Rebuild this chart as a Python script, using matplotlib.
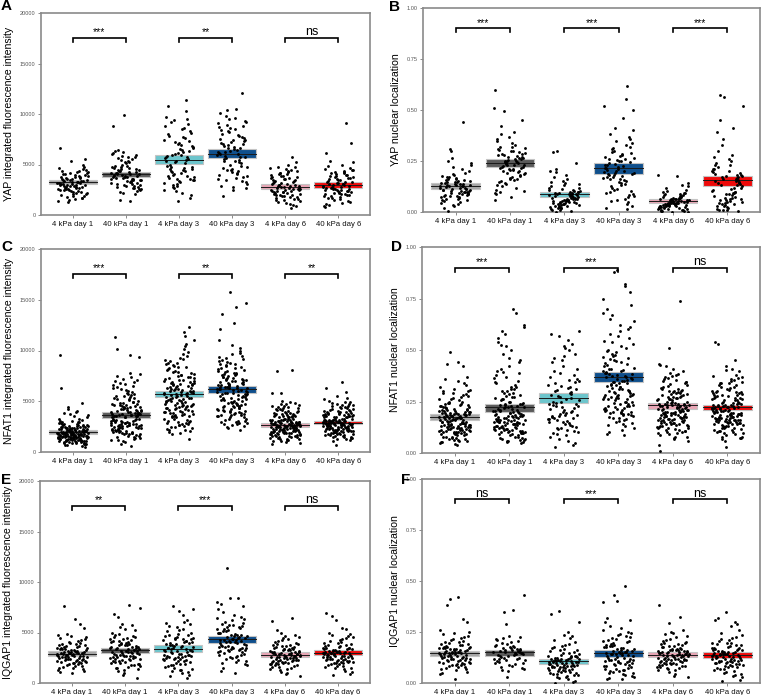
import numpy as np
import matplotlib
matplotlib.use("Agg")
import matplotlib.pyplot as plt
from matplotlib.patches import Rectangle

plt.rcParams['font.family'] = ['Liberation Sans', 'DejaVu Sans']

groups = ["4 kPa day 1", "40 kPa day 1", "4 kPa day 3", "40 kPa day 3", "4 kPa day 6", "40 kPa day 6"]
box_colors = ["#a6a6a6", "#5a5a5a", "#6cc5cc", "#0f4f8c", "#e8a5b5", "#ee0a0a"]

# ---------------- Panel A: YAP intensity (units of 100) ----------------
A1 = [32, 28, 41, 19, 36, 25, 44, 30, 22, 38, 35, 17, 29, 47, 33, 26, 40, 21, 31, 37,
      15, 43, 27, 34, 50, 24, 30, 39, 18, 45, 29, 36, 23, 42, 14, 33, 27, 48, 31, 20,
      38, 26, 35, 16, 41, 28, 53, 32, 24, 37, 30, 19, 44, 34, 25, 39, 22, 29, 46, 33,
      66, 27, 36, 21, 40, 31, 17, 35, 26, 43, 28, 55, 23, 38, 32, 13, 42, 30, 25, 34]
A2 = [40, 35, 52, 28, 46, 38, 61, 31, 44, 26, 49, 37, 57, 22, 42, 33, 64, 39, 29, 47,
      36, 54, 25, 43, 41, 59, 30, 48, 34, 15, 45, 38, 63, 27, 50, 32, 41, 56, 24, 39,
      88, 36, 46, 30, 53, 42, 21, 37, 60, 33, 44, 28, 51, 40, 35, 58, 26, 47, 31, 43,
      99, 38, 55, 23, 41, 34, 49, 29, 62, 36, 14, 45, 32, 52, 39, 27, 48, 35, 57, 42]
A3 = [54, 72, 38, 85, 46, 63, 29, 97, 51, 40, 68, 33, 80, 57, 24, 74, 45, 92, 36, 61,
      49, 103, 27, 66, 42, 78, 55, 31, 88, 47, 59, 20, 71, 39, 95, 52, 35, 64, 44, 83,
      14, 57, 76, 30, 48, 69, 37, 90, 53, 25, 62, 43, 81, 34, 58, 114, 41, 67, 22, 50,
      73, 36, 56, 86, 28, 46, 65, 108, 39, 60, 32, 77, 48, 17, 70, 53, 44, 94, 35, 59]
A4 = [60, 78, 45, 92, 53, 70, 34, 86, 62, 41, 98, 57, 74, 29, 66, 83, 48, 105, 55, 38,
      72, 61, 44, 89, 27, 67, 80, 51, 95, 36, 64, 58, 76, 43, 101, 52, 69, 31, 85, 47,
      121, 63, 40, 79, 56, 93, 25, 71, 49, 82, 59, 37, 68, 88, 46, 75, 54, 104, 33, 65,
      19, 77, 50, 91, 42, 62, 73, 28, 84, 57, 66, 39, 96, 53, 70, 45, 87, 60, 35, 74]
A5 = [28, 35, 20, 42, 25, 31, 15, 48, 23, 37, 18, 29, 44, 12, 33, 26, 39, 21, 50, 27,
      9, 36, 24, 45, 30, 16, 41, 22, 34, 19, 47, 27, 13, 38, 25, 32, 57, 20, 29, 43,
      17, 35, 23, 40, 11, 30, 26, 46, 21, 33, 28, 14, 37, 24, 52, 19, 31, 7, 42, 27,
      22, 34, 16, 39, 25, 29, 48, 18, 36, 23, 10, 32, 26, 44, 20, 30, 15, 38, 24, 41]
A6 = [29, 36, 21, 44, 26, 33, 16, 49, 24, 38, 19, 31, 42, 13, 35, 27, 40, 22, 52, 28,
      10, 37, 25, 46, 30, 17, 71, 23, 34, 20, 43, 28, 12, 39, 26, 32, 61, 21, 30, 45,
      18, 36, 24, 41, 9, 31, 27, 47, 22, 33, 91, 15, 38, 25, 53, 20, 32, 8, 43, 28,
      23, 35, 17, 40, 26, 29, 50, 19, 37, 24, 11, 33, 27, 45, 21, 31, 14, 39, 25, 42]
A_mean = [3250, 4050, 5480, 6080, 2800, 2930]
A_lo = [3040, 3800, 5050, 5600, 2540, 2640]
A_hi = [3470, 4290, 5940, 6500, 3070, 3230]

# ---------------- Panel B: YAP nuclear localization (units of 0.001) ----------------
B1 = [128, 95, 170, 60, 145, 110, 210, 80, 132, 40, 155, 100, 185, 72, 120, 250, 90, 160, 55, 138,
      105, 230, 68, 148, 115, 30, 175, 88, 126, 200, 76, 142, 98, 265, 118, 50, 162, 84, 135, 108,
      440, 92, 152, 64, 122, 190, 35, 140, 102, 170, 86, 130, 20, 158, 112, 240, 74, 134, 96, 180,
      58, 125, 310, 104, 146, 82, 116, 220, 45, 138, 5, 94, 165, 78, 128, 300, 106, 150, 66, 114]
B2 = [240, 190, 300, 150, 260, 210, 350, 120, 280, 230, 170, 320, 200, 250, 95, 390, 220, 270, 160, 310,
      245, 140, 290, 205, 420, 180, 255, 110, 330, 225, 265, 75, 305, 195, 235, 510, 155, 285, 215, 370,
      130, 275, 250, 185, 340, 100, 295, 230, 60, 260, 200, 450, 165, 280, 240, 135, 315, 210, 380, 175,
      270, 90, 250, 495, 220, 300, 145, 265, 190, 600, 230, 125, 285, 205, 360, 160, 245, 105, 320, 215]
B3 = [87, 50, 120, 30, 95, 65, 150, 15, 100, 40, 75, 180, 55, 110, 20, 85, 60, 210, 45, 130,
      70, 5, 95, 35, 160, 80, 50, 115, 25, 90, 300, 62, 140, 42, 78, 10, 105, 58, 195, 68,
      38, 125, 82, 28, 98, 52, 170, 72, 18, 110, 48, 88, 240, 60, 8, 92, 44, 135, 66, 30,
      102, 56, 200, 76, 22, 84, 46, 295, 64, 36, 118, 54, 2, 90, 40, 145, 70, 26, 100, 58]
B4 = [218, 150, 300, 90, 250, 180, 370, 60, 270, 200, 120, 340, 160, 230, 40, 410, 190, 280, 100, 320,
      210, 20, 260, 170, 500, 130, 240, 75, 350, 195, 225, 55, 290, 145, 205, 555, 110, 265, 175, 380,
      85, 255, 215, 135, 310, 30, 275, 185, 15, 235, 165, 460, 125, 245, 220, 95, 330, 180, 400, 140,
      260, 50, 200, 520, 155, 295, 105, 250, 170, 620, 190, 80, 285, 160, 360, 115, 230, 65, 315, 185]
B5 = [54, 30, 80, 15, 60, 40, 100, 8, 65, 25, 45, 120, 35, 70, 10, 55, 38, 140, 28, 85,
      48, 2, 62, 20, 105, 50, 32, 75, 12, 58, 180, 42, 90, 26, 52, 5, 68, 36, 125, 44,
      22, 82, 56, 18, 64, 34, 110, 46, 6, 72, 30, 58, 175, 40, 4, 60, 28, 88, 42, 16,
      66, 36, 130, 50, 14, 56, 30, 95, 44, 24, 78, 34, 0, 62, 26, 92, 46, 20, 70, 38]
B6 = [155, 90, 210, 40, 170, 120, 260, 15, 180, 70, 110, 280, 60, 190, 25, 150, 100, 360, 50, 230,
      140, 5, 175, 80, 410, 130, 65, 200, 30, 160, 565, 105, 250, 45, 145, 10, 185, 95, 330, 125,
      55, 220, 165, 35, 195, 85, 450, 135, 20, 240, 75, 160, 520, 115, 8, 170, 60, 270, 120, 40,
      180, 90, 390, 150, 28, 200, 70, 575, 140, 50, 230, 100, 12, 175, 65, 300, 130, 45, 210, 95]
B_mean = [0.128, 0.240, 0.087, 0.218, 0.054, 0.155]
B_lo = [0.113, 0.221, 0.074, 0.188, 0.044, 0.129]
B_hi = [0.142, 0.259, 0.100, 0.242, 0.062, 0.177]

# ---------------- Panel C: NFAT1 intensity (units of 100) ----------------
C1 = [19, 14, 25, 9, 21, 17, 30, 12, 23, 16, 27, 11, 20, 33, 15, 24, 8, 18, 29, 13,
      22, 36, 10, 19, 26, 14, 31, 17, 7, 21, 16, 28, 12, 24, 18, 40, 15, 22, 9, 20,
      25, 13, 34, 17, 19, 6, 23, 11, 27, 16, 21, 14, 30, 18, 10, 26, 15, 38, 20, 12,
      96, 17, 24, 8, 22, 16, 32, 13, 19, 28, 11, 21, 15, 25, 18, 44, 14, 20, 9, 23,
      17, 29, 12, 22, 16, 35, 19, 10, 26, 15, 24, 7, 18, 31, 13, 21, 16, 27, 11, 20,
      48, 15, 23, 18, 12, 25, 17, 63, 14, 22, 19, 9, 28, 16, 20, 13, 33, 18, 11, 24,
      15, 21, 37, 14, 26, 17, 8, 19, 23, 12, 42, 16, 22, 10, 27, 18, 14, 30, 20, 5,
      13, 25, 17, 21, 15, 39, 19, 11, 24, 16]
C2 = [37, 24, 52, 15, 41, 29, 66, 19, 46, 33, 58, 21, 38, 72, 27, 44, 12, 35, 61, 25,
      49, 31, 77, 18, 40, 28, 55, 22, 36, 68, 16, 43, 30, 53, 26, 39, 96, 23, 47, 34,
      63, 20, 42, 14, 57, 32, 45, 11, 37, 74, 27, 50, 19, 35, 65, 24, 41, 29, 101, 17,
      44, 33, 59, 21, 38, 26, 70, 13, 48, 31, 54, 22, 36, 10, 46, 28, 62, 18, 39, 75,
      25, 43, 34, 56, 20, 37, 30, 113, 15, 45, 27, 51, 23, 40, 67, 32, 19, 48, 26, 60,
      35, 14, 42, 29, 78, 24, 38, 21, 53, 31, 8, 44, 27, 64, 33, 18, 47, 36, 25, 94,
      41, 22, 57, 30, 12, 39, 26, 71, 34, 20, 49, 28, 37, 16, 55, 32, 43, 23, 6, 36,
      24, 46, 31, 69, 19, 40, 27, 52, 35, 29]
C3 = [57, 42, 73, 28, 64, 35, 88, 50, 22, 79, 46, 67, 31, 95, 54, 39, 71, 25, 60, 84,
      43, 106, 33, 58, 76, 20, 65, 48, 91, 37, 69, 53, 27, 82, 45, 62, 110, 36, 56, 74,
      30, 87, 49, 66, 24, 59, 41, 99, 34, 70, 52, 18, 78, 44, 63, 29, 85, 47, 61, 38,
      123, 55, 72, 26, 67, 40, 93, 51, 32, 80, 57, 46, 68, 21, 75, 43, 104, 35, 60, 50,
      83, 28, 64, 39, 118, 53, 45, 71, 23, 58, 36, 77, 48, 90, 30, 62, 54, 42, 86, 66,
      19, 73, 41, 57, 33, 97, 50, 69, 27, 81, 44, 61, 37, 76, 52, 13, 65, 47, 101, 34,
      59, 40, 88, 55, 25, 70, 45, 62, 31, 79, 49, 114, 38, 67, 56, 22, 74, 43, 58, 92,
      35, 63, 51, 29, 84, 46, 68, 39, 60, 53]
C4 = [62, 45, 80, 33, 70, 52, 95, 40, 66, 28, 85, 57, 73, 36, 102, 48, 63, 30, 77, 55,
      42, 90, 60, 25, 71, 50, 136, 38, 67, 82, 47, 58, 34, 97, 64, 44, 75, 29, 87, 53,
      68, 39, 110, 56, 72, 31, 61, 83, 46, 65, 35, 78, 51, 92, 27, 69, 43, 58, 147, 37,
      74, 54, 88, 41, 63, 32, 81, 49, 66, 100, 24, 59, 76, 45, 67, 36, 94, 52, 71, 40,
      127, 57, 84, 33, 62, 48, 79, 26, 70, 55, 43, 89, 60, 38, 74, 50, 158, 35, 65, 86,
      47, 58, 30, 98, 63, 42, 77, 28, 69, 53, 121, 39, 73, 56, 44, 91, 61, 34, 80, 46,
      64, 37, 105, 51, 22, 68, 57, 83, 41, 72, 49, 62, 31, 93, 54, 45, 76, 36, 66, 59,
      143, 40, 71, 48, 87, 29, 64, 52, 78, 44]
C5 = [27, 20, 35, 13, 30, 23, 42, 16, 32, 25, 38, 18, 28, 47, 21, 33, 11, 26, 40, 19,
      29, 24, 45, 15, 31, 22, 36, 17, 27, 50, 14, 34, 25, 39, 20, 28, 81, 23, 30, 12,
      37, 26, 43, 18, 32, 21, 29, 10, 35, 24, 58, 27, 19, 41, 22, 33, 16, 30, 25, 46,
      13, 28, 36, 20, 31, 24, 44, 17, 26, 38, 21, 29, 9, 34, 23, 48, 19, 32, 27, 15,
      40, 25, 30, 22, 37, 18, 28, 80, 24, 33, 11, 26, 42, 20, 31, 16, 35, 23, 29, 49,
      14, 27, 38, 21, 25, 32, 18, 44, 26, 30, 22, 58, 19, 34, 28, 12, 36, 24, 41, 20,
      27, 31, 15, 39, 23, 29, 47, 17, 33, 25, 21, 35, 8, 30, 26, 43, 19, 28, 37, 22,
      32, 16, 27, 24, 45, 20, 34, 29, 13, 26]
C6 = [29, 22, 37, 15, 32, 25, 44, 18, 34, 27, 40, 20, 30, 49, 23, 35, 13, 28, 42, 21,
      31, 26, 47, 17, 33, 24, 38, 19, 29, 53, 16, 36, 27, 41, 22, 30, 63, 25, 32, 14,
      39, 28, 45, 20, 34, 23, 31, 12, 37, 26, 59, 29, 21, 43, 24, 35, 18, 32, 27, 48,
      15, 30, 38, 22, 33, 26, 46, 19, 28, 40, 23, 31, 11, 36, 25, 50, 21, 34, 29, 17,
      42, 27, 32, 24, 39, 20, 30, 69, 26, 35, 13, 28, 44, 22, 33, 18, 37, 25, 31, 52,
      16, 29, 40, 23, 27, 34, 20, 46, 28, 32, 24, 55, 21, 36, 30, 14, 38, 26, 43, 22,
      29, 33, 17, 41, 25, 31, 49, 19, 35, 27, 23, 37, 7, 32, 28, 45, 21, 30, 39, 24,
      34, 18, 29, 26, 47, 22, 36, 31, 15, 28]
C_mean = [1970, 3680, 5720, 6220, 2700, 2880]
C_lo = [1810, 3390, 5430, 5860, 2470, 2730]
C_hi = [2140, 3950, 6020, 6550, 2890, 3030]

# ---------------- Panel D: NFAT1 nuclear localization (units of 0.001) ----------------
D1 = [174, 130, 220, 90, 190, 150, 270, 70, 200, 120, 240, 100, 180, 320, 140, 210, 60, 165, 290, 110,
      195, 135, 350, 80, 185, 125, 230, 95, 170, 300, 75, 205, 145, 260, 105, 175, 430, 115, 215, 55,
      250, 155, 190, 85, 225, 130, 180, 50, 235, 140, 370, 160, 100, 280, 120, 200, 65, 185, 150, 310,
      90, 170, 245, 110, 195, 135, 340, 80, 160, 255, 125, 210, 45, 225, 145, 490, 105, 190, 165, 70,
      265, 130, 180, 115, 235, 95, 175, 420, 140, 205, 60, 155, 285, 100, 195, 120, 250, 135, 170, 360,
      85, 160, 230, 110, 150, 215, 90, 300, 145, 185, 125, 440, 105, 200, 165, 55, 240, 130, 275, 100,
      175, 190, 75, 260, 120, 180, 330, 95, 210, 150, 115, 225, 40, 195, 140, 290, 110, 170, 245, 125,
      205, 80, 160, 135, 305, 100, 220, 185, 65, 150]
D2 = [221, 160, 290, 100, 240, 180, 380, 80, 260, 140, 320, 120, 200, 520, 150, 270, 70, 190, 420, 130,
      230, 170, 610, 90, 210, 145, 300, 110, 185, 480, 75, 250, 165, 350, 115, 205, 700, 125, 280, 60,
      340, 175, 220, 95, 310, 150, 195, 55, 265, 140, 590, 180, 105, 400, 135, 235, 65, 215, 160, 450,
      100, 190, 330, 120, 245, 155, 540, 85, 170, 365, 140, 255, 50, 285, 160, 680, 110, 225, 180, 75,
      390, 145, 205, 125, 300, 95, 195, 560, 150, 240, 70, 175, 410, 105, 225, 130, 320, 150, 185, 500,
      90, 170, 275, 115, 160, 260, 100, 460, 155, 210, 135, 620, 110, 235, 180, 60, 345, 140, 395, 105,
      195, 215, 80, 370, 125, 200, 525, 95, 250, 165, 120, 290, 55, 230, 150, 440, 115, 185, 310, 130,
      240, 85, 175, 145, 580, 100, 270, 205, 65, 160]
D3 = [268, 180, 350, 110, 300, 220, 450, 80, 320, 160, 410, 140, 250, 530, 190, 330, 60, 230, 480, 150,
      280, 200, 570, 100, 260, 170, 380, 120, 240, 500, 90, 310, 210, 440, 130, 270, 590, 155, 340, 50,
      420, 215, 290, 115, 360, 185, 235, 40, 325, 165, 550, 245, 125, 470, 175, 295, 70, 255, 195, 400,
      105, 225, 370, 145, 305, 185, 510, 95, 205, 390, 165, 315, 30, 345, 200, 580, 135, 275, 230, 85,
      460, 170, 250, 150, 355, 120, 240, 520, 180, 285]
D4 = [368, 250, 470, 180, 400, 300, 600, 150, 420, 220, 540, 200, 340, 700, 260, 450, 120, 310, 650, 230,
      380, 280, 810, 170, 360, 240, 500, 190, 330, 680, 140, 410, 290, 570, 210, 370, 880, 235, 440, 100,
      560, 275, 390, 160, 480, 250, 320, 90, 430, 255, 750, 350, 195, 610, 265, 395, 130, 345, 285, 520,
      175, 305, 490, 215, 405, 270, 720, 155, 325, 510, 245, 415, 110, 455, 300, 890, 205, 375, 315, 145,
      620, 260, 355, 225, 465, 185, 335, 780, 280, 390, 165, 295, 530, 200, 385, 240, 445, 270, 350, 670,
      185, 310, 425, 230, 290, 400, 210, 580, 275, 360, 220, 820, 200, 385, 320, 135, 460, 265, 545, 190,
      330, 365, 170, 495, 250, 345, 640, 195, 410, 300, 215, 435, 85, 375, 280, 590, 230, 340, 475, 260]
D5 = [231, 170, 290, 120, 250, 200, 350, 100, 260, 160, 310, 140, 220, 410, 185, 275, 90, 210, 380, 150,
      240, 195, 430, 110, 235, 175, 300, 130, 215, 390, 95, 265, 190, 340, 145, 230, 740, 165, 285, 80,
      320, 205, 245, 125, 295, 180, 225, 75, 280, 170, 510, 235, 135, 360, 160, 255, 10, 225, 200, 330,
      115, 215, 305, 150, 260, 185, 420, 105, 195, 315, 175, 270, 60, 290, 190, 400, 140, 240, 210, 100,
      345, 165, 230, 155, 300, 125, 220, 370, 180, 250, 85, 200, 325, 135, 245, 160, 280, 185, 215, 385,
      110, 190, 270, 145, 205, 260, 130, 355, 175, 235, 160, 425, 140, 250, 210, 70, 310, 170, 335, 120,
      225, 240, 105, 295, 155, 230, 365, 120, 265, 195, 150, 285, 40, 240, 180, 345, 145, 210, 300, 165,
      255, 95, 200, 175, 375, 130, 270, 225, 80, 190]
D6 = [222, 165, 280, 120, 245, 195, 340, 100, 255, 155, 300, 140, 215, 400, 180, 270, 90, 205, 370, 150,
      235, 190, 420, 110, 230, 170, 295, 130, 210, 380, 95, 260, 185, 330, 145, 225, 540, 160, 280, 80,
      315, 200, 240, 125, 290, 175, 220, 75, 275, 165, 450, 230, 135, 350, 160, 250, 30, 220, 195, 320,
      115, 210, 300, 150, 255, 180, 410, 105, 190, 310, 170, 265, 70, 285, 185, 530, 140, 235, 205, 100,
      340, 160, 225, 155, 295, 125, 215, 360, 175, 245, 85, 195, 320, 135, 240, 160, 275, 180, 210, 375,
      110, 185, 265, 145, 200, 255, 130, 345, 170, 230, 160, 405, 140, 245, 205, 75, 305, 165, 330, 120,
      220, 235, 105, 290, 150, 225, 355, 120, 260, 190, 150, 280, 60, 235, 175, 340, 145, 205, 295, 160,
      250, 95, 195, 170, 365, 130, 265, 220, 80, 185]
D_mean = [0.174, 0.221, 0.268, 0.368, 0.231, 0.222]
D_lo = [0.162, 0.200, 0.245, 0.343, 0.216, 0.211]
D_hi = [0.187, 0.239, 0.289, 0.393, 0.245, 0.234]

# ---------------- Panel E: IQGAP1 intensity (units of 100) ----------------
E1 = [29, 22, 36, 14, 31, 25, 42, 18, 33, 27, 39, 20, 30, 48, 23, 34, 12, 28, 45, 21,
      32, 26, 63, 16, 30, 24, 38, 19, 28, 44, 15, 35, 27, 41, 22, 31, 76, 24, 33, 11,
      37, 28, 46, 20, 34, 23, 30, 13, 36, 26, 54, 29, 21, 40, 24, 35, 17, 31, 27, 47,
      15, 30, 37, 22, 33, 26, 43, 19, 28, 39, 23, 31, 10, 34, 25, 49, 21, 32, 29, 17,
      40, 27, 32, 24, 38, 20, 30, 58, 26, 35]
E2 = [32, 24, 41, 15, 35, 27, 50, 18, 38, 29, 45, 21, 33, 58, 25, 39, 12, 30, 53, 22,
      36, 28, 74, 16, 34, 26, 44, 20, 31, 49, 14, 40, 29, 47, 23, 35, 77, 26, 37, 10,
      42, 30, 55, 19, 38, 24, 33, 8, 41, 27, 65, 32, 21, 46, 25, 39, 17, 34, 28, 52,
      13, 31, 43, 22, 36, 27, 48, 18, 30, 44, 24, 35, 5, 38, 26, 57, 20, 34, 31, 15,
      46, 28, 36, 23, 42, 19, 32, 68, 27, 40]
E3 = [34, 24, 45, 13, 38, 28, 55, 16, 41, 30, 50, 19, 35, 62, 25, 43, 10, 31, 58, 22,
      39, 27, 76, 14, 36, 26, 48, 20, 33, 53, 12, 44, 29, 51, 23, 37, 73, 26, 40, 8,
      46, 32, 60, 18, 41, 24, 35, 5, 44, 28, 67, 34, 21, 49, 25, 42, 15, 36, 29, 56,
      11, 32, 47, 22, 38, 27, 52, 17, 31, 45, 24, 37, 7, 40, 26, 59, 19, 35, 32, 13,
      48, 28, 39, 23, 44, 18, 33, 71, 27, 42]
E4 = [43, 33, 55, 22, 47, 37, 65, 26, 50, 40, 60, 29, 44, 78, 34, 52, 18, 41, 70, 31,
      48, 36, 84, 24, 45, 35, 58, 28, 42, 64, 21, 53, 39, 62, 32, 46, 114, 35, 49, 15,
      56, 41, 73, 27, 51, 33, 44, 12, 54, 37, 80, 43, 30, 59, 34, 50, 23, 46, 38, 67,
      20, 42, 57, 31, 48, 36, 63, 25, 40, 55, 33, 47, 10, 51, 35, 84, 28, 45, 41, 19,
      57, 38, 48, 32, 53, 26, 43, 76, 36, 50]
E5 = [28, 21, 35, 13, 31, 24, 41, 17, 33, 26, 38, 19, 29, 47, 22, 34, 11, 27, 44, 20,
      31, 25, 61, 15, 29, 23, 37, 18, 27, 43, 14, 34, 26, 40, 21, 30, 64, 23, 32, 10,
      36, 27, 45, 19, 33, 22, 29, 9, 35, 25, 50, 28, 20, 39, 23, 34, 16, 30, 26, 46,
      14, 29, 36, 21, 32, 25, 42, 18, 27, 38, 22, 30, 7, 33, 24, 48, 20, 31, 28, 16,
      39, 26, 31, 23, 37, 19, 29, 52, 25, 34]
E6 = [30, 22, 37, 14, 32, 25, 43, 18, 34, 27, 40, 20, 30, 49, 23, 35, 12, 28, 46, 21,
      32, 26, 62, 16, 30, 24, 39, 19, 28, 45, 15, 35, 27, 42, 22, 31, 69, 24, 33, 11,
      37, 28, 47, 20, 34, 23, 30, 9, 36, 26, 53, 29, 21, 41, 24, 35, 17, 31, 27, 48,
      15, 30, 38, 22, 33, 26, 44, 19, 28, 40, 23, 31, 8, 34, 25, 50, 21, 32, 29, 17,
      66, 27, 32, 24, 38, 20, 30, 54, 26, 35]
E_mean = [2890, 3220, 3390, 4340, 2800, 2960]
E_lo = [2630, 2960, 3030, 3980, 2570, 2730]
E_hi = [3130, 3450, 3720, 4700, 3030, 3220]

# ---------------- Panel F: IQGAP1 nuclear localization (units of 0.001) ----------------
F1 = [147, 110, 180, 70, 160, 125, 220, 85, 170, 130, 200, 95, 150, 260, 115, 175, 55, 140, 240, 100,
      165, 120, 420, 75, 155, 118, 190, 90, 145, 230, 65, 178, 128, 210, 105, 152, 380, 122, 168, 50,
      188, 138, 250, 92, 172, 112, 148, 45, 185, 132, 300, 150, 98, 205, 116, 176, 80, 158, 136, 245,
      68, 146, 195, 104, 166, 126, 225, 88, 142, 200, 114, 162, 20, 174, 124, 410, 96, 154, 150, 78,
      215, 134, 160, 108, 192, 86, 144, 315, 128, 170]
F2 = [150, 115, 180, 80, 160, 130, 215, 95, 170, 140, 200, 105, 155, 290, 120, 175, 65, 145, 230, 110,
      165, 125, 430, 85, 158, 122, 190, 100, 148, 220, 75, 178, 135, 205, 112, 152, 360, 128, 168, 60,
      185, 142, 350, 98, 172, 118, 150, 30, 182, 138, 195, 146, 90, 210, 120, 162, 70, 160, 132, 225]
F3 = [106, 70, 140, 35, 115, 85, 180, 50, 125, 90, 160, 60, 110, 230, 78, 130, 20, 100, 200, 65,
      120, 82, 355, 40, 112, 80, 150, 55, 104, 190, 30, 134, 88, 170, 68, 108, 300, 84, 122, 10,
      145, 94, 220, 58, 128, 74, 102, 5, 138, 92, 250, 106, 48, 165, 76, 132, 25, 116, 96, 210,
      38, 100, 155, 62, 124, 86, 185, 45, 98, 160, 72, 118, 0, 130, 80, 340, 52, 112, 104, 28,
      175, 90, 120, 66, 148, 44, 102, 235, 84, 126]
F4 = [147, 95, 195, 50, 160, 115, 250, 70, 175, 125, 220, 80, 150, 320, 105, 185, 30, 135, 280, 90,
      165, 110, 475, 55, 155, 100, 210, 75, 140, 260, 45, 190, 120, 235, 85, 152, 430, 112, 170, 25,
      205, 128, 300, 65, 180, 98, 145, 20, 200, 118, 395, 148, 60, 225, 102, 188, 40, 158, 130, 270,
      48, 138, 215, 82, 172, 114, 245, 58, 132, 230, 92, 166, 22, 182, 106, 400, 68, 150, 144, 35,
      240, 122, 162, 88, 208, 62, 140, 310, 108, 178]
F5 = [139, 105, 170, 70, 150, 120, 205, 85, 160, 125, 190, 92, 142, 245, 110, 165, 55, 132, 225, 98,
      155, 115, 380, 75, 148, 112, 180, 88, 136, 215, 62, 168, 122, 198, 100, 145, 325, 118, 158, 45,
      178, 130, 250, 90, 162, 108, 140, 35, 175, 128, 295, 142, 95, 195, 112, 166, 78, 150, 130, 230,
      65, 138, 185, 100, 156, 120, 210, 82, 134, 190, 108, 152, 30, 164, 116, 260, 92, 146, 140, 72,
      200, 126, 150, 102, 182, 80, 136, 240, 120, 160]
F6 = [137, 100, 172, 60, 150, 115, 210, 75, 162, 120, 195, 85, 140, 260, 105, 168, 40, 128, 235, 90,
      155, 110, 350, 65, 146, 108, 185, 80, 132, 225, 50, 170, 118, 205, 95, 142, 310, 112, 158, 30,
      180, 126, 290, 82, 164, 102, 136, 15, 178, 124, 300, 140, 88, 198, 106, 166, 55, 148, 128, 245,
      45, 134, 190, 92, 154, 116, 220, 70, 130, 195, 98, 150, 10, 160, 110, 320, 78, 144, 138, 35,
      215, 122, 152, 96, 188, 68, 132, 280, 104, 170]
F_mean = [0.147, 0.150, 0.106, 0.147, 0.139, 0.137]
F_lo = [0.134, 0.134, 0.093, 0.126, 0.126, 0.123]
F_hi = [0.158, 0.163, 0.119, 0.162, 0.154, 0.150]

sig_A = ["***", "**", "ns"]
sig_B = ["***", "***", "***"]
sig_C = ["***", "**", "**"]
sig_D = ["***", "***", "ns"]
sig_E = ["**", "***", "ns"]
sig_F = ["ns", "***", "ns"]

W, H = 763, 695
fig = plt.figure(figsize=(W / 100, H / 100), dpi=100)


def frac_rect(l, t, r, b):
    return [l / W, 1 - b / H, (r - l) / W, (b - t) / H]


panels = [
    dict(letter="A", lpos=(1, 6), rect=frac_rect(41, 13, 370, 215), ylabel="YAP integrated fluorescence intensity",
         data=[A1, A2, A3, A4, A5, A6], scale=100, mean=A_mean, lo=A_lo, hi=A_hi, sig=sig_A, kind="int"),
    dict(letter="B", lpos=(389, 7), rect=frac_rect(423, 8, 760, 212), ylabel="YAP nuclear localization",
         data=[B1, B2, B3, B4, B5, B6], scale=0.001, mean=B_mean, lo=B_lo, hi=B_hi, sig=sig_B, kind="loc"),
    dict(letter="C", lpos=(1, 247), rect=frac_rect(41, 249, 370, 452), ylabel="NFAT1 integrated fluorescence intensity",
         data=[C1, C2, C3, C4, C5, C6], scale=100, mean=C_mean, lo=C_lo, hi=C_hi, sig=sig_C, kind="int"),
    dict(letter="D", lpos=(391, 247), rect=frac_rect(422, 247, 760, 453), ylabel="NFAT1 nuclear localization",
         data=[D1, D2, D3, D4, D5, D6], scale=0.001, mean=D_mean, lo=D_lo, hi=D_hi, sig=sig_D, kind="loc"),
    dict(letter="E", lpos=(1, 480), rect=frac_rect(40, 481, 370, 683), ylabel="IQGAP1 integrated fluorescence intensity",
         data=[E1, E2, E3, E4, E5, E6], scale=100, mean=E_mean, lo=E_lo, hi=E_hi, sig=sig_E, kind="int"),
    dict(letter="F", lpos=(401, 480), rect=frac_rect(422, 479, 760, 683), ylabel="IQGAP1 nuclear localization",
         data=[F1, F2, F3, F4, F5, F6], scale=0.001, mean=F_mean, lo=F_lo, hi=F_hi, sig=sig_F, kind="loc"),
]

frame_col = "#8a8a8a"
for p in panels:
    ax = fig.add_axes(p["rect"])
    ymax = 20000 if p["kind"] == "int" else 1.0
    for g in range(6):
        x = g + 1
        ax.add_patch(Rectangle((x - 0.45, p["lo"][g]), 0.9, p["hi"][g] - p["lo"][g],
                               facecolor=box_colors[g], edgecolor="#c4c4c4", lw=0.8, zorder=2))
        ax.plot([x - 0.45, x + 0.45], [p["mean"][g]] * 2, color="#1a1a1a", lw=0.7, zorder=3)
        vals = np.array(p["data"][g], dtype=float) * p["scale"]
        n = len(vals)
        offs = ((np.arange(n) * 0.6180339 + 0.37 * g) % 1.0 - 0.5) * 0.58
        ax.scatter(x + offs, vals, s=4.2, c="black", linewidths=0, zorder=4)
    # significance brackets
    frac = 0.877 if p["kind"] == "int" else 0.90
    ytop = frac * ymax
    yleg = (frac - 0.02) * ymax
    for k, s in enumerate(p["sig"]):
        x1, x2 = 2 * k + 1, 2 * k + 2
        ax.plot([x1, x1, x2, x2], [yleg, ytop, ytop, yleg], color="black", lw=1.2, zorder=5,
                solid_joinstyle="miter")
        fs = 9 if s == "ns" else 7.5
        ax.text((x1 + x2) / 2, ytop + 0.012 * ymax, s, ha="center", va="baseline", fontsize=fs)
    ax.set_xlim(0.4, 6.6)
    ax.set_ylim(0, ymax)
    ax.set_xticks(range(1, 7))
    ax.set_xticklabels(groups)
    if p["kind"] == "int":
        ax.set_yticks([0, 5000, 10000, 15000, 20000])
        ax.set_yticklabels(["0", "5000", "10000", "15000", "20000"])
    else:
        ax.set_yticks([0, 0.25, 0.5, 0.75, 1.0])
        ax.set_yticklabels(["0.00", "0.25", "0.50", "0.75", "1.00"])
    ax.tick_params(axis="y", labelsize=4.1, labelcolor="#555555", color=frame_col, length=2.5, width=0.7, pad=1.5)
    ax.tick_params(axis="x", labelsize=5.6, labelcolor="#111111", color=frame_col, length=2.5, width=0.7, pad=1.5)
    for sp in ax.spines.values():
        sp.set_color(frame_col)
        sp.set_linewidth(1.2)
    ax.set_ylabel(p["ylabel"], fontsize=7.55, labelpad=4)
    fig.text(p["lpos"][0] / W, 1 - p["lpos"][1] / H, p["letter"], fontsize=11, fontweight="bold",
             ha="left", va="center")

fig.savefig("out.png", dpi=100)
